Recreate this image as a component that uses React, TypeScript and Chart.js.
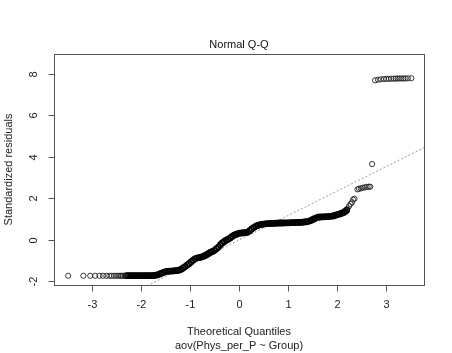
import React, { useEffect, useRef } from "react";
import { Chart, registerables } from "chart.js";

Chart.register(...registerables);

// ---- Text ----
const TITLE = "Normal Q-Q";
const X_TITLE = "Theoretical Quantiles";
const SUB_TITLE = "aov(Phys_per_P ~ Group)";
const Y_TITLE = "Standardized residuals";

// ---- Axes ----
const X_TICKS = [-3, -2, -1, 0, 1, 2, 3];
const Y_TICKS = [-2, 0, 2, 4, 6, 8];
const X_MIN = -3.78;
const X_MAX = 3.78;
const Y_MIN = -2.19;
const Y_MAX = 8.95;

// ---- qqline ----
const QQLINE_INTERCEPT = -0.02;
const QQLINE_SLOPE = 1.177;

// ---- Points [theoretical quantile, standardized residual] ----
const LOWER_TAIL: [number, number][] = [
  [-3.49, -1.745], [-3.18, -1.745], [-3.04, -1.745], [-2.94, -1.745], [-2.85, -1.745],
  [-2.78, -1.745], [-2.71, -1.745], [-2.65, -1.745], [-2.60, -1.745], [-2.55, -1.745],
  [-2.51, -1.745], [-2.47, -1.745], [-2.43, -1.745], [-2.40, -1.745], [-2.37, -1.745],
  [-2.34, -1.745],
];

const BODY: [number, number][] = [
  [-2.30, -1.74], [-2.26, -1.74], [-2.22, -1.74], [-2.18, -1.74], [-2.14, -1.74],
  [-2.10, -1.74], [-2.06, -1.74], [-2.02, -1.74], [-1.98, -1.74], [-1.94, -1.74],
  [-1.90, -1.74], [-1.86, -1.74], [-1.82, -1.74], [-1.78, -1.74], [-1.74, -1.73],
  [-1.70, -1.72], [-1.66, -1.70], [-1.62, -1.66], [-1.58, -1.62], [-1.54, -1.58],
  [-1.50, -1.55], [-1.46, -1.53], [-1.42, -1.52], [-1.38, -1.52], [-1.34, -1.51],
  [-1.30, -1.50], [-1.26, -1.49], [-1.22, -1.47], [-1.18, -1.43], [-1.14, -1.37],
  [-1.10, -1.30], [-1.06, -1.23], [-1.02, -1.16], [-0.98, -1.08], [-0.94, -1.00],
  [-0.90, -0.93], [-0.86, -0.89], [-0.82, -0.87], [-0.78, -0.85], [-0.74, -0.82],
  [-0.70, -0.78], [-0.66, -0.73], [-0.62, -0.67], [-0.58, -0.61], [-0.54, -0.57],
  [-0.50, -0.52], [-0.46, -0.44], [-0.42, -0.36], [-0.38, -0.25], [-0.34, -0.16],
  [-0.30, -0.09], [-0.26, -0.03], [-0.22, 0.02], [-0.18, 0.08], [-0.14, 0.15],
  [-0.10, 0.21], [-0.06, 0.25], [-0.02, 0.29], [0.02, 0.31], [0.06, 0.32],
  [0.10, 0.33], [0.14, 0.34], [0.18, 0.36], [0.22, 0.43], [0.26, 0.51],
  [0.30, 0.58], [0.34, 0.64], [0.38, 0.68], [0.42, 0.71], [0.46, 0.73],
  [0.50, 0.75], [0.54, 0.76], [0.58, 0.77], [0.62, 0.77], [0.66, 0.78],
  [0.70, 0.78], [0.74, 0.79], [0.78, 0.79], [0.82, 0.80], [0.86, 0.80],
  [0.90, 0.80], [0.94, 0.81], [0.98, 0.81], [1.02, 0.81], [1.06, 0.82],
  [1.10, 0.82], [1.14, 0.82], [1.18, 0.83], [1.22, 0.83], [1.26, 0.83],
  [1.30, 0.84], [1.34, 0.85], [1.38, 0.86], [1.42, 0.88], [1.46, 0.91],
  [1.50, 0.96], [1.54, 1.01], [1.58, 1.05], [1.62, 1.08], [1.66, 1.09],
  [1.70, 1.10], [1.74, 1.10], [1.78, 1.11], [1.82, 1.11], [1.86, 1.12],
  [1.90, 1.13], [1.94, 1.15], [1.98, 1.18], [2.02, 1.21], [2.06, 1.24],
  [2.10, 1.27], [2.14, 1.31], [2.17, 1.36], [2.20, 1.42],
];

const UPPER_TAIL: [number, number][] = [
  [2.22, 1.50], [2.25, 1.62], [2.28, 1.72], [2.31, 1.80], [2.33, 1.93],
  [2.36, 1.97], [2.42, 2.42], [2.45, 2.45], [2.49, 2.47], [2.53, 2.50],
  [2.57, 2.52], [2.61, 2.54], [2.65, 2.55], [2.68, 2.55], [2.72, 3.64],
];

const OUTLIERS: [number, number][] = [
  [2.78, 7.68], [2.84, 7.71], [2.90, 7.73], [2.96, 7.74], [3.01, 7.75],
  [3.06, 7.75], [3.11, 7.76], [3.16, 7.76], [3.20, 7.76], [3.24, 7.77],
  [3.28, 7.77], [3.32, 7.77], [3.36, 7.77], [3.40, 7.77], [3.45, 7.78],
  [3.52, 7.78],
];

const FONT = "'Liberation Sans', Arial, sans-serif";

const rAxesPlugin = {
  id: "rAxes",
  afterDraw(chart: any) {
    const { ctx, chartArea: a, scales } = chart;
    const xs = scales.x;
    const ys = scales.y;
    ctx.save();
    ctx.strokeStyle = "#555";
    ctx.lineWidth = 1;
    ctx.strokeRect(a.left + 0.5, a.top + 0.5, a.right - a.left, a.bottom - a.top);

    ctx.fillStyle = "#222";
    ctx.font = `11px ${FONT}`;
    ctx.textAlign = "center";
    ctx.textBaseline = "middle";
    for (const v of X_TICKS) {
      const px = Math.round(xs.getPixelForValue(v)) + 0.5;
      ctx.beginPath();
      ctx.moveTo(px, a.bottom + 0.5);
      ctx.lineTo(px, a.bottom + 6.5);
      ctx.stroke();
      ctx.fillText(String(v), px, a.bottom + 20);
    }
    for (const v of Y_TICKS) {
      const py = Math.round(ys.getPixelForValue(v)) + 0.5;
      ctx.beginPath();
      ctx.moveTo(a.left + 0.5, py);
      ctx.lineTo(a.left - 5.5, py);
      ctx.stroke();
      ctx.save();
      ctx.translate(a.left - 20, py);
      ctx.rotate(-Math.PI / 2);
      ctx.fillText(String(v), 0, 0);
      ctx.restore();
    }

    const cx = (a.left + a.right) / 2;
    const cy = (a.top + a.bottom) / 2;
    ctx.fillStyle = "#111";
    ctx.fillText(TITLE, cx, a.top - 9);
    ctx.fillStyle = "#222";
    ctx.fillText(X_TITLE, cx, a.bottom + 47);
    ctx.fillText(SUB_TITLE, cx, a.bottom + 61);
    ctx.save();
    ctx.translate(a.left - 45, cy);
    ctx.rotate(-Math.PI / 2);
    ctx.fillText(Y_TITLE, 0, 0);
    ctx.restore();
    ctx.restore();
  },
};

const toPts = (arr: [number, number][]) => arr.map(([x, y]) => ({ x, y }));

const pointSet = (data: any[], width: number, color: string) => ({
  type: "scatter",
  data,
  pointStyle: "circle",
  pointRadius: 2.6,
  pointBorderWidth: width,
  pointBackgroundColor: "rgba(0,0,0,0)",
  pointBorderColor: color,
  borderColor: color,
  backgroundColor: "rgba(0,0,0,0)",
});

export default function App() {
  const ref = useRef<HTMLCanvasElement | null>(null);

  useEffect(() => {
    if (!ref.current) return;
    const chart = new Chart(ref.current, {
      type: "scatter",
      data: {
        datasets: [
          pointSet(toPts(LOWER_TAIL), 0.9, "#222") as any,
          pointSet(toPts(BODY), 1.6, "#000") as any,
          pointSet(toPts(UPPER_TAIL), 0.9, "#222") as any,
          pointSet(toPts(OUTLIERS), 0.9, "#222") as any,
          {
            type: "line",
            data: [
              { x: X_MIN, y: QQLINE_INTERCEPT + QQLINE_SLOPE * X_MIN },
              { x: X_MAX, y: QQLINE_INTERCEPT + QQLINE_SLOPE * X_MAX },
            ],
            borderColor: "#999",
            borderWidth: 1,
            borderDash: [2, 2],
            pointRadius: 0,
            fill: false,
          } as any,
        ],
      },
      options: {
        responsive: false,
        animation: false,
        devicePixelRatio: 1,
        layout: { padding: { left: 54, top: 54, right: 28, bottom: 68 } },
        scales: {
          x: { type: "linear", min: X_MIN, max: X_MAX, display: false },
          y: { type: "linear", min: Y_MIN, max: Y_MAX, display: false },
        },
        plugins: {
          legend: { display: false },
          tooltip: { enabled: false },
          title: { display: false },
        },
        events: [],
      },
      plugins: [rAxesPlugin],
    });
    return () => chart.destroy();
  }, []);

  return (
    <div style={{ position: "fixed", left: 0, top: 0, width: 452, height: 353, background: "#fff" }}>
      <canvas ref={ref} width={452} height={353} style={{ display: "block" }} />
    </div>
  );
}
